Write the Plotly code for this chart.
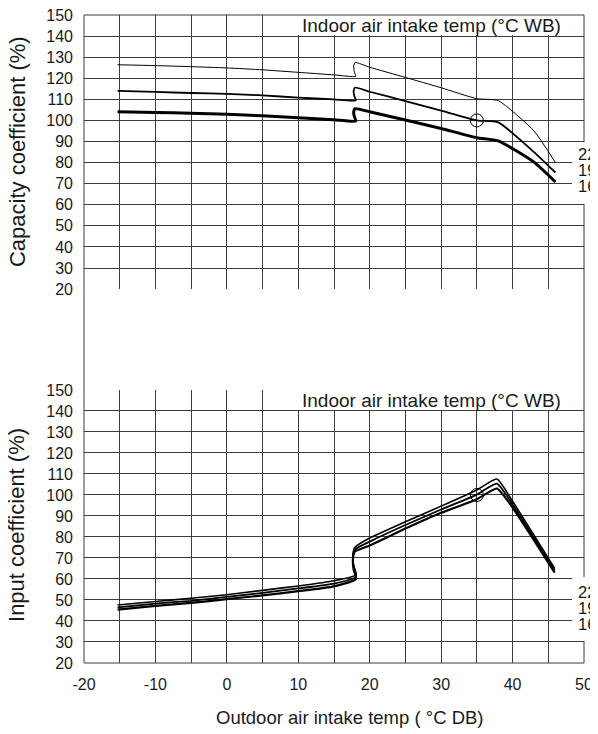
import plotly.graph_objects as go

# ---------------- data ----------------
x_ticks = [-20, -10, 0, 10, 20, 30, 40, 50]
x_tick_text = ["-20", "-10", "0", "10", "20", "30", "40", "50"]
y_ticks = [20, 30, 40, 50, 60, 70, 80, 90, 100, 110, 120, 130, 140, 150]
series_names = ["22°C", "19°C", "16°C"]

# Capacity coefficient (top chart)
cap_x = [-15.3, -10, -5, 0, 5, 10, 15, 18.05, 17.85, 17.75, 17.95, 20, 25, 30, 35, 38, 43, 46]
cap_22 = [126.4, 126.0, 125.5, 124.9, 124.0, 122.8, 121.6, 120.9, 123.0, 125.8, 127.5, 125.2, 120.4, 115.5, 110.3, 109.4, 95.0, 80.0]
cap_19 = [114.0, 113.5, 113.0, 112.6, 111.9, 110.8, 110.0, 109.5, 111.5, 114.0, 115.6, 113.6, 109.2, 104.6, 100.0, 99.1, 85.0, 75.3]
cap_16 = [104.1, 103.8, 103.4, 102.9, 102.2, 101.3, 100.3, 99.7, 101.8, 104.0, 105.6, 104.1, 100.2, 96.2, 91.8, 90.3, 80.2, 70.8]

# Input coefficient (bottom chart)
inp_x = [-15.3, -10, -5, 0, 5, 10, 15, 18.1, 17.75, 17.65, 17.9, 20, 25, 30, 35, 37.8, 40, 45.9]
inp_22 = [47.6, 49.3, 50.8, 52.5, 54.6, 56.7, 59.2, 62.0, 66.5, 71.5, 75.0, 79.5, 87.3, 94.7, 102.4, 107.6, 97.0, 65.0]
inp_19 = [46.5, 48.3, 49.6, 51.5, 53.4, 55.5, 57.8, 61.0, 65.5, 70.5, 74.0, 77.8, 85.7, 93.1, 100.2, 105.4, 95.5, 64.0]
inp_16 = [45.4, 47.2, 48.6, 50.4, 52.2, 54.2, 56.5, 60.0, 64.5, 69.5, 73.0, 76.0, 84.0, 91.5, 98.0, 103.1, 94.0, 63.0]

rating_x = [35]
rating_y = [100]

cap_label_y = [84.1, 76.5, 68.9]
inp_label_y = [53.7, 46.0, 38.4]

# ---------------- styling ----------------
FONT = "Liberation Sans, Arial, sans-serif"
GRID = "#3c3c3c"
TXT = "#1a1a1a"

fig = go.Figure()

cap_widths = [1.0, 1.8, 3.0]
for ys, w in zip([cap_22, cap_19, cap_16], cap_widths):
    fig.add_trace(go.Scatter(x=cap_x, y=ys, mode="lines", xaxis="x2", yaxis="y2",
                             line=dict(color="black", width=w, shape="spline", smoothing=0.5),
                             showlegend=False, hoverinfo="skip"))

inp_widths = [1.6, 1.8, 2.2]
for ys, w in zip([inp_22, inp_19, inp_16], inp_widths):
    fig.add_trace(go.Scatter(x=inp_x, y=ys, mode="lines", xaxis="x", yaxis="y",
                             line=dict(color="black", width=w, shape="spline", smoothing=0.5),
                             showlegend=False, hoverinfo="skip"))

for xa, ya in [("x2", "y2"), ("x", "y")]:
    fig.add_trace(go.Scatter(x=rating_x, y=rating_y, mode="markers", xaxis=xa, yaxis=ya,
                             marker=dict(symbol="circle-open", size=13, color="black", line=dict(width=1)),
                             showlegend=False, hoverinfo="skip"))

common_x = dict(range=[-20, 50], showgrid=True, gridcolor=GRID, gridwidth=1,
                minor=dict(tick0=-20, dtick=5, showgrid=True, gridcolor=GRID, gridwidth=1),
                zeroline=False, showline=False, ticks="", fixedrange=True, automargin=False)
common_y = dict(range=[20, 150], tickvals=y_ticks, showgrid=True, gridcolor=GRID, gridwidth=1,
                zeroline=False, showline=False, ticks="", ticklabelstandoff=10, automargin=False,
                ticklabeloverflow="allow",
                tickfont=dict(family=FONT, size=16, color=TXT))

# the page body keeps its default 8px margin, so the figure is sized to fit inside the window
fig.update_layout(
    width=590, height=726,
    margin=dict(l=76, r=14, t=7, b=71, autoexpand=False),
    paper_bgcolor="white", plot_bgcolor="white",
    xaxis=dict(**common_x, anchor="y", tickvals=x_ticks, ticktext=x_tick_text, ticklabelstandoff=10,
               ticklabeloverflow="allow", tickfont=dict(family=FONT, size=16, color=TXT)),
    xaxis2=dict(**common_x, anchor="y2", matches="x", tickvals=x_ticks, showticklabels=False),
    yaxis=dict(**common_y, domain=[0, 0.4213], anchor="x"),
    yaxis2=dict(**common_y, domain=[0.577, 1], anchor="x2"),
)

shapes = []
# header boxes
for xr, yr in [("x2", "y2"), ("x", "y")]:
    shapes.append(dict(type="rect", xref=xr, yref=yr, x0=9.8, x1=50, y0=140.45, y1=150,
                       fillcolor="white", line=dict(width=0), layer="above"))
# outer frame
shapes.append(dict(type="rect", xref="paper", yref="paper", x0=0, x1=1, y0=0, y1=1,
                   line=dict(color=GRID, width=1), layer="above"))
# white patches behind right labels
shapes.append(dict(type="rect", xref="paper", yref="y2", x0=0.976, x1=1.04, y0=60.5, y1=89.5,
                   fillcolor="white", line=dict(width=0), layer="above"))
shapes.append(dict(type="rect", xref="paper", yref="y", x0=0.976, x1=1.04, y0=30.5, y1=61.0,
                   fillcolor="white", line=dict(width=0), layer="above"))
fig.update_layout(shapes=shapes)

ann = []
for xr, yr in [("x2", "y2"), ("x", "y")]:
    ann.append(dict(text="Indoor air intake temp (°C WB)", xref=xr, yref=yr, x=28.7, y=145,
                    xanchor="center", yanchor="middle", showarrow=False,
                    font=dict(family=FONT, size=19, color=TXT)))
for name, yv in zip(series_names, cap_label_y):
    ann.append(dict(text=name, xref="paper", yref="y2", x=0.983, y=yv, xanchor="left", yanchor="middle",
                    showarrow=False, font=dict(family=FONT, size=16.5, color=TXT)))
for name, yv in zip(series_names, inp_label_y):
    ann.append(dict(text=name, xref="paper", yref="y", x=0.983, y=yv, xanchor="left", yanchor="middle",
                    showarrow=False, font=dict(family=FONT, size=16.5, color=TXT)))
ann.append(dict(text="Capacity coefficient (%)", xref="paper", yref="paper", x=-0.134, y=0.7885,
                textangle=-90, xanchor="center", yanchor="middle", showarrow=False,
                font=dict(family=FONT, size=22, color=TXT)))
ann.append(dict(text="Input coefficient (%)", xref="paper", yref="paper", x=-0.134, y=0.213,
                textangle=-90, xanchor="center", yanchor="middle", showarrow=False,
                font=dict(family=FONT, size=22, color=TXT)))
ann.append(dict(text="Outdoor air intake temp ( °C DB)", xref="paper", yref="paper", x=0.532, y=-0.084,
                xanchor="center", yanchor="middle", showarrow=False,
                font=dict(family=FONT, size=18.5, color=TXT)))
fig.update_layout(annotations=ann)

fig.write_html("out.html")
